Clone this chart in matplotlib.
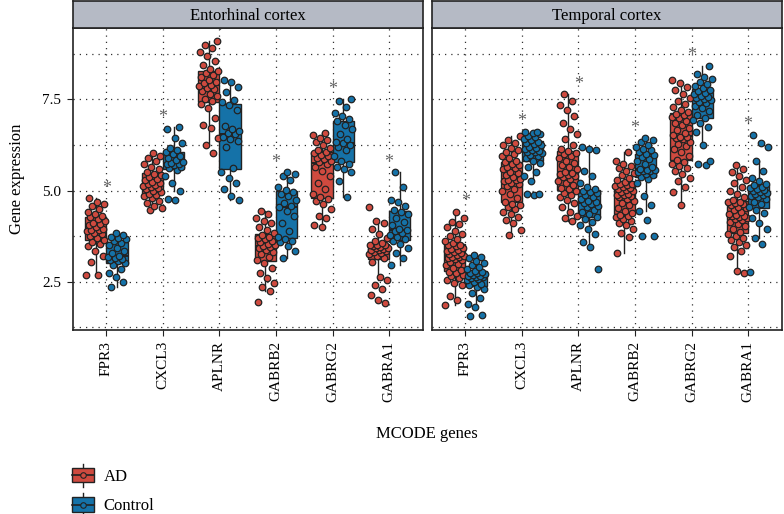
import numpy as np
import matplotlib
matplotlib.use('Agg')
import matplotlib.pyplot as plt
from matplotlib.patches import Rectangle, Patch
from matplotlib.lines import Line2D
from matplotlib.legend_handler import HandlerBase
from matplotlib.ticker import FixedLocator

plt.rcParams['font.family'] = ['Liberation Serif', 'DejaVu Serif']

genes = ['FPR3', 'CXCL3', 'APLNR', 'GABRB2', 'GABRG2', 'GABRA1']
regions = ['Entorhinal cortex', 'Temporal cortex']
groups = ['AD', 'Control']

# entorhinal cortex, one list per gene
ec_ad = [
    [2.70, 2.68, 3.05, 3.20, 3.35, 3.48, 3.55, 3.60, 3.65, 3.70, 3.76, 3.80, 3.85, 3.88, 3.92, 3.93,
     3.96, 4.00, 4.05, 4.08, 4.12, 4.18, 4.22, 4.27, 4.30, 4.35, 4.42, 4.50, 4.58, 4.62, 4.70, 4.79],
    [4.48, 4.52, 4.58, 4.65, 4.72, 4.80, 4.85, 4.89, 4.92, 4.96, 5.00, 5.03, 5.06, 5.09, 5.12, 5.14,
     5.17, 5.20, 5.24, 5.28, 5.33, 5.38, 5.42, 5.46, 5.50, 5.58, 5.65, 5.72, 5.80, 5.88, 5.96, 6.02],
    [6.04, 6.25, 6.45, 6.72, 6.80, 7.00, 7.25, 7.38, 7.45, 7.52, 7.60, 7.66, 7.72, 7.78, 7.82, 7.86,
     7.90, 7.94, 7.98, 8.04, 8.10, 8.16, 8.22, 8.27, 8.32, 8.45, 8.55, 8.68, 8.80, 8.90, 9.00, 9.09],
    [1.95, 2.25, 2.35, 2.48, 2.60, 2.75, 2.88, 3.02, 3.10, 3.18, 3.25, 3.32, 3.38, 3.42, 3.46, 3.48,
     3.50, 3.54, 3.58, 3.62, 3.66, 3.70, 3.74, 3.79, 3.84, 3.92, 4.00, 4.10, 4.18, 4.25, 4.35, 4.45],
    [4.01, 4.05, 4.25, 4.30, 4.50, 4.62, 4.72, 4.77, 4.82, 4.90, 5.05, 5.20, 5.40, 5.55, 5.65, 5.72,
     5.78, 5.82, 5.86, 5.90, 5.94, 5.98, 6.02, 6.05, 6.10, 6.18, 6.25, 6.32, 6.38, 6.45, 6.52, 6.57],
    [1.91, 2.00, 2.15, 2.30, 2.42, 2.55, 2.62, 3.05, 3.15, 3.20, 3.25, 3.30, 3.33, 3.35, 3.37, 3.38,
     3.40, 3.42, 3.44, 3.46, 3.48, 3.50, 3.51, 3.52, 3.56, 3.62, 3.70, 3.80, 3.95, 4.10, 4.18, 4.56],
]
ec_ctrl = [
    [2.36, 2.50, 2.62, 2.75, 2.85, 2.97, 3.02, 3.06, 3.10, 3.13, 3.16, 3.19,
     3.22, 3.28, 3.35, 3.42, 3.50, 3.57, 3.62, 3.66, 3.70, 3.74, 3.78, 3.83],
    [4.74, 4.78, 5.00, 5.22, 5.40, 5.56, 5.62, 5.66, 5.69, 5.72, 5.74, 5.75,
     5.78, 5.84, 5.90, 5.95, 6.00, 6.05, 6.10, 6.18, 6.30, 6.45, 6.68, 6.73],
    [4.74, 4.85, 5.05, 5.20, 5.35, 5.50, 5.62, 6.20, 6.35, 6.42, 6.48, 6.54,
     6.58, 6.62, 6.70, 6.78, 7.20, 7.35, 7.42, 7.48, 7.70, 7.85, 7.98, 8.03],
    [3.14, 3.35, 3.48, 3.58, 3.62, 3.66, 3.72, 3.90, 4.10, 4.30, 4.45, 4.54,
     4.58, 4.65, 4.75, 4.85, 4.92, 4.97, 5.02, 5.10, 5.30, 5.40, 5.46, 5.50],
    [4.83, 5.25, 5.50, 5.58, 5.65, 5.72, 5.80, 5.95, 6.10, 6.20, 6.26, 6.30,
     6.33, 6.40, 6.55, 6.68, 6.80, 6.90, 6.95, 7.05, 7.12, 7.28, 7.45, 7.50],
    [2.96, 3.15, 3.30, 3.42, 3.55, 3.62, 3.66, 3.72, 3.78, 3.84, 3.88, 3.91,
     3.94, 4.05, 4.15, 4.25, 4.35, 4.42, 4.48, 4.58, 4.70, 4.75, 5.10, 5.50],
]

# temporal cortex
tc_ad = [
    [1.86, 2.00, 2.10, 2.40, 2.48, 2.55, 2.60, 2.66, 2.70, 2.74, 2.78, 2.82, 2.88, 2.95, 3.00,
     3.05, 3.09, 3.12, 3.15, 3.17, 3.19, 3.20, 3.23, 3.26, 3.29, 3.32, 3.35, 3.38, 3.41, 3.44,
     3.47, 3.50, 3.52, 3.56, 3.62, 3.68, 3.75, 3.82, 3.90, 4.00, 4.08, 4.15, 4.25, 4.42],
    [3.78, 3.92, 4.10, 4.20, 4.28, 4.35, 4.42, 4.50, 4.55, 4.60, 4.64, 4.70, 4.80, 4.90, 4.98,
     5.05, 5.12, 5.18, 5.22, 5.26, 5.28, 5.30, 5.33, 5.38, 5.42, 5.48, 5.52, 5.58, 5.62, 5.66,
     5.70, 5.74, 5.78, 5.82, 5.88, 5.94, 6.00, 6.06, 6.12, 6.18, 6.24, 6.30, 6.38, 6.49],
    [4.17, 4.25, 4.30, 4.40, 4.55, 4.65, 4.75, 4.82, 4.88, 4.93, 4.98, 5.03, 5.08, 5.14, 5.20,
     5.26, 5.32, 5.36, 5.40, 5.44, 5.46, 5.48, 5.52, 5.58, 5.64, 5.70, 5.76, 5.82, 5.88, 5.94,
     5.99, 6.03, 6.08, 6.14, 6.25, 6.40, 6.55, 6.70, 6.85, 7.05, 7.20, 7.35, 7.45, 7.64],
    [3.30, 3.72, 3.85, 3.95, 4.05, 4.12, 4.18, 4.23, 4.27, 4.30, 4.33, 4.38, 4.45, 4.52, 4.60,
     4.66, 4.72, 4.78, 4.82, 4.85, 4.88, 4.89, 4.92, 4.95, 4.98, 5.01, 5.04, 5.07, 5.10, 5.13,
     5.15, 5.17, 5.19, 5.23, 5.28, 5.35, 5.42, 5.48, 5.55, 5.62, 5.68, 5.74, 5.80, 6.05],
    [4.60, 4.95, 5.10, 5.25, 5.35, 5.45, 5.55, 5.62, 5.68, 5.74, 5.78, 5.85, 5.95, 6.05, 6.15,
     6.22, 6.28, 6.34, 6.40, 6.44, 6.46, 6.48, 6.52, 6.58, 6.65, 6.72, 6.80, 6.86, 6.92, 6.98,
     7.02, 7.06, 7.10, 7.15, 7.22, 7.30, 7.38, 7.45, 7.55, 7.65, 7.75, 7.85, 7.95, 8.03],
    [2.75, 2.80, 3.20, 3.35, 3.45, 3.52, 3.58, 3.64, 3.70, 3.76, 3.81, 3.86, 3.94, 4.02, 4.08,
     4.14, 4.19, 4.23, 4.26, 4.28, 4.29, 4.30, 4.33, 4.37, 4.42, 4.47, 4.52, 4.56, 4.60, 4.63,
     4.66, 4.68, 4.70, 4.75, 4.82, 4.90, 5.00, 5.10, 5.20, 5.30, 5.40, 5.50, 5.60, 5.70],
]
tc_ctrl = [
    [1.56, 1.58, 1.82, 1.90, 2.05, 2.20, 2.30, 2.36, 2.40, 2.45, 2.50, 2.54, 2.57, 2.60, 2.62, 2.63,
     2.65, 2.67, 2.69, 2.71, 2.73, 2.75, 2.78, 2.80, 2.84, 2.90, 2.96, 3.02, 3.08, 3.14, 3.18, 3.23],
    [4.88, 4.90, 4.92, 5.25, 5.40, 5.50, 5.65, 5.76, 5.82, 5.88, 5.94, 5.98, 6.02, 6.05, 6.07, 6.08,
     6.10, 6.13, 6.16, 6.20, 6.24, 6.28, 6.31, 6.34, 6.38, 6.42, 6.46, 6.50, 6.54, 6.57, 6.60, 6.61],
    [2.84, 3.45, 3.60, 3.82, 3.95, 4.05, 4.15, 4.22, 4.28, 4.35, 4.42, 4.48, 4.54, 4.58, 4.62, 4.65,
     4.68, 4.72, 4.76, 4.82, 4.88, 4.93, 4.97, 5.00, 5.04, 5.10, 5.20, 5.40, 5.55, 6.10, 6.15, 6.20],
    [3.75, 3.76, 4.20, 4.45, 4.60, 4.85, 5.20, 5.32, 5.38, 5.42, 5.46, 5.50, 5.53, 5.55, 5.56, 5.57,
     5.60, 5.65, 5.72, 5.80, 5.86, 5.92, 5.97, 6.00, 6.05, 6.10, 6.15, 6.20, 6.25, 6.32, 6.38, 6.43],
    [5.70, 5.72, 5.80, 6.25, 6.60, 6.75, 6.85, 6.93, 7.00, 7.08, 7.18, 7.26, 7.33, 7.40, 7.44, 7.47,
     7.50, 7.53, 7.56, 7.60, 7.64, 7.68, 7.72, 7.76, 7.80, 7.86, 7.92, 7.98, 8.05, 8.12, 8.20, 8.42],
    [2.77, 3.55, 3.70, 3.95, 4.10, 4.25, 4.38, 4.47, 4.55, 4.62, 4.70, 4.76, 4.82, 4.86, 4.89, 4.91,
     4.93, 4.96, 4.99, 5.02, 5.05, 5.08, 5.11, 5.14, 5.18, 5.25, 5.35, 5.55, 5.80, 6.20, 6.30, 6.52],
]

colors = {'AD': '#CF4A3F', 'Control': '#1572A8'}
edge = '#222222'
strip_col = '#B5BAC5'

W, H = 784, 514
fig = plt.figure(figsize=(W / 100, H / 100), dpi=100)


def fx(px):
    return px / W


def fy(py):
    return 1 - py / H


panels = [(72.5, 423.0), (431.5, 782.0)]
top_px, bot_px = 28, 330
ymin, ymax = 1.18, 9.455
x = np.arange(1, len(genes) + 1)
off = 0.1875
bw = 0.375

region_data = [(ec_ad, ec_ctrl), (tc_ad, tc_ctrl)]

for k, (x0, x1) in enumerate(panels):
    ax = fig.add_axes([fx(x0), fy(bot_px), fx(x1) - fx(x0), (bot_px - top_px) / H])
    ad, ctrl = region_data[k]
    for g, (data, sign) in enumerate([(ad, -1), (ctrl, 1)]):
        c = colors[groups[g]]
        pos = x + sign * off
        ax.boxplot(data, positions=pos, widths=bw, patch_artist=True, showfliers=False,
                   showcaps=False, manage_ticks=False,
                   boxprops=dict(facecolor=c, edgecolor=edge, linewidth=1.0),
                   medianprops=dict(color=edge, linewidth=1.4),
                   whiskerprops=dict(color=edge, linewidth=1.0), zorder=2)
        for i, vals in enumerate(data):
            n = len(vals)
            jit = ((np.arange(n) * 0.618034 + i * 0.37 + g * 0.21) % 1 - 0.5) * 0.34
            ax.scatter(pos[i] + jit, vals, s=22, facecolor=c, edgecolor=edge,
                       linewidth=0.9, zorder=3)
    # significance marks
    for i in range(len(genes)):
        top = max(max(ad[i]), max(ctrl[i]))
        ax.text(x[i], top + 0.28, '*', ha='center', va='center', color='#666666',
                fontsize=13)

    ax.set_xlim(0.4, 6.6)
    ax.set_ylim(ymin, ymax)
    ax.set_xticks(x)
    ax.set_xticklabels(genes, rotation=90, fontsize=11)
    ax.set_yticks([2.5, 5.0, 7.5])
    ax.yaxis.set_minor_locator(FixedLocator([1.25, 3.75, 6.25, 8.75]))
    ax.tick_params(which='minor', length=0)
    ax.tick_params(which='major', length=4, width=0.8, color=edge, pad=4)
    if k == 0:
        ax.set_yticklabels(['2.5', '5.0', '7.5'], fontsize=11)
    else:
        ax.tick_params(axis='y', which='both', length=0, labelleft=False)
    ax.grid(True, which='both', axis='y', linestyle=(0, (1, 4)), color='#333333', linewidth=0.9)
    ax.grid(True, which='major', axis='x', linestyle=(0, (1, 4)), color='#333333', linewidth=0.9)
    ax.set_axisbelow(True)
    for s in ax.spines.values():
        s.set_color(edge)
        s.set_linewidth(1.2)

    strip = fig.add_axes([fx(x0), fy(top_px), fx(x1) - fx(x0), (top_px - 1) / H])
    strip.set_facecolor(strip_col)
    strip.set_xticks([])
    strip.set_yticks([])
    for s in strip.spines.values():
        s.set_color(edge)
        s.set_linewidth(1.2)
    strip.text(0.5, 0.45, regions[k], ha='center', va='center', fontsize=12,
               transform=strip.transAxes)

fig.text(fx(17), fy(179), 'Gene expression', rotation=90, ha='center', va='center', fontsize=12)
fig.text(fx(427), fy(434), 'MCODE genes', ha='center', va='center', fontsize=12)


class BoxKey(HandlerBase):
    def create_artists(self, legend, orig_handle, xdescent, ydescent, width, height,
                       fontsize, trans):
        x0, y0 = -xdescent, -ydescent
        fc = orig_handle.get_facecolor()
        wl = Line2D([x0 + width / 2] * 2, [y0 - 3, y0 + height + 3], color=edge, lw=1,
                    transform=trans)
        box = Rectangle((x0, y0), width, height, facecolor=fc, edgecolor=edge, lw=1,
                        transform=trans)
        med = Line2D([x0, x0 + width], [y0 + height / 2] * 2, color=edge, lw=1.2,
                     transform=trans)
        dot = Line2D([x0 + width / 2], [y0 + height / 2], marker='o', ms=4, mfc=fc,
                     mec=edge, mew=0.8, transform=trans)
        return [wl, box, med, dot]


handles = [Patch(facecolor=colors[g]) for g in groups]
fig.legend(handles, groups, handler_map={Patch: BoxKey()}, loc='upper left',
           bbox_to_anchor=(fx(72), fy(468)), frameon=False, fontsize=12,
           handlelength=1.3, handleheight=0.95, labelspacing=0.75, handletextpad=0.6,
           borderpad=0, borderaxespad=0)

fig.savefig('out.png', dpi=100)
